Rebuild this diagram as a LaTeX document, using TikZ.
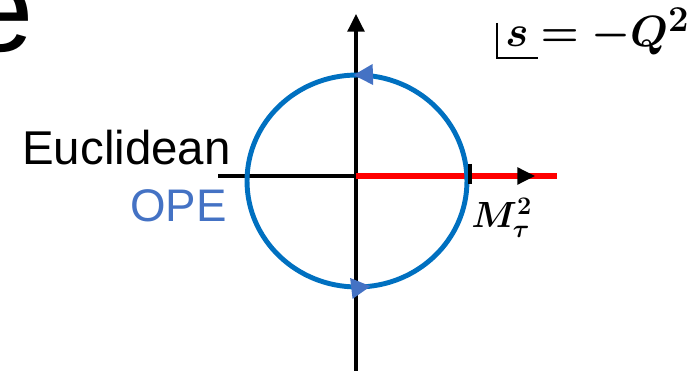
\documentclass[tikz,border=0pt]{standalone}
\usepackage{amsmath,bm}
\usepackage{fontspec}
\newfontfamily\slidefont{Liberation Sans}
\usepackage{tikz}
\usetikzlibrary{arrows.meta,calc,decorations.markings}
\definecolor{contourblue}{HTML}{0070C0}
\definecolor{opeblue}{HTML}{4472C4}
\definecolor{cutred}{HTML}{FF0000}

\begin{document}
\begin{tikzpicture}[x=0.02cm, y=-0.02cm,
        axis/.style={draw=black, line width=1.8pt},
        axistip/.style={-{Triangle[length=10pt, width=9.5pt]}},
        flowtip/.style={opeblue, line width=0pt},
        slidetext/.style={inner sep=0pt, font=\slidefont\fontsize{27}{29}\selectfont},
        mathlabel/.style={inner sep=0pt}]
        \useasboundingbox (0,0) rectangle (697,371);

        \coordinate (o) at (356, 176);
        \coordinate (ybot) at (356, 371);
        \coordinate (ytop) at (356, 14);
        \coordinate (xleft) at (218, 176);
        \coordinate (xtipbase) at (520, 176);
        \coordinate (xtip) at (535, 176);
        \coordinate (cutend) at (557, 176);
        \coordinate (mtau) at (470, 176);
        \coordinate (centre) at (357, 181);
        \coordinate (cornertop) at (497, 23);
        \coordinate (corner) at (497, 58);
        \coordinate (cornerend) at (538, 58);

        \node[slidetext, anchor=base east, font=\slidefont\fontsize{70}{72}\selectfont] (title) at (34, 52) {e};
        \node[slidetext, anchor=base east] (eucl) at (231, 165) {Euclidean};
        \node[slidetext, anchor=base east, text=opeblue, font=\slidefont\fontsize{26}{28}\selectfont] (ope) at (227, 222) {OPE};
        \node[mathlabel, anchor=base west, font=\fontsize{27.5}{29}\selectfont] (sq) at (505, 47) {$\bm{s=-Q^2}$};
        \node[mathlabel, anchor=base west, font=\fontsize{19.5}{21}\selectfont] (mlabel) at (471, 228) {$\bm{M_\tau^2}$};

        \draw[axis, axistip] (ybot) -- (ytop);
        \draw[axis] (xleft) -- (o);
        \draw[cutred, line width=3.4pt] (o) -- (cutend);
        \draw[axis, axistip] (xtipbase) -- (xtip);

        \draw[contourblue, line width=2.8pt,
            postaction={decorate, decoration={markings,
                mark=at position 0.255 with {\arrow[flowtip]{Triangle[length=11pt, width=12pt]}},
                mark=at position 0.77 with {\arrow[flowtip]{Triangle[length=11pt, width=12pt]}}}}]
            (centre) ellipse [x radius=2.2cm, y radius=2.12cm];

        \draw[axis] ($(mtau)+(0,-12)$) -- ($(mtau)+(0,8)$);
        \draw[line width=1.7pt] (cornertop) -- (corner) -- (cornerend);
    \end{tikzpicture}
\end{document}
